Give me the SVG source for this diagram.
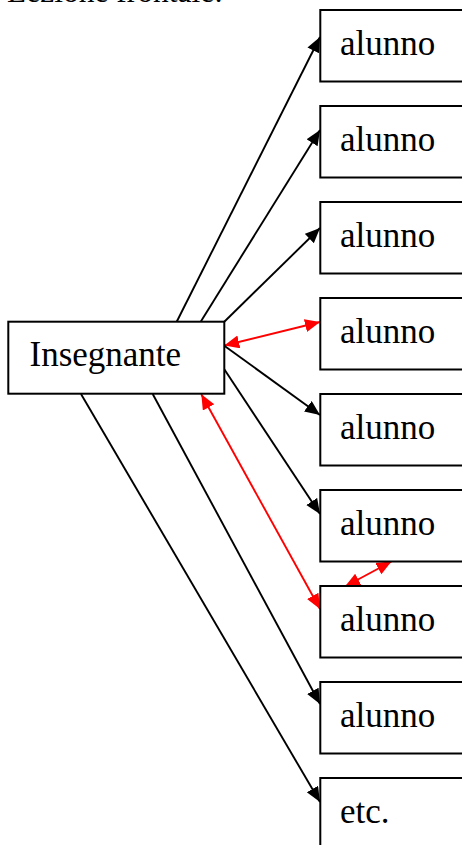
<svg xmlns="http://www.w3.org/2000/svg" width="462" height="845" viewBox="0 0 462 845">
<defs>
<style>
.box{fill:#fff;stroke:#000;stroke-width:2}
.t{font-family:"Liberation Serif","Times New Roman",serif;font-size:35px;fill:#000}
.k{stroke:#000;stroke-width:1.9;fill:none}
.r{stroke:#f00;stroke-width:1.9;fill:none}
</style>
<marker id="ak" markerUnits="userSpaceOnUse" markerWidth="18" markerHeight="16" refX="15" refY="6.5" orient="auto"><path d="M0,0 L15,6.5 L0,13 Z" fill="#000"/></marker>
<marker id="ar" markerUnits="userSpaceOnUse" markerWidth="18" markerHeight="16" refX="15" refY="6.5" orient="auto-start-reverse"><path d="M0,0 L15,6.5 L0,13 Z" fill="#f00"/></marker>
</defs>
<rect width="462" height="845" fill="#fff"/>
<text class="t" x="7" y="2" style="font-size:31.5px">Lezione frontale:</text>
<g id="connectors">
<line class="k" x1="176.7" y1="321.7" x2="320" y2="37" marker-end="url(#ak)"/>
<line class="k" x1="200.7" y1="321.7" x2="320" y2="130" marker-end="url(#ak)"/>
<line class="k" x1="224.3" y1="321.7" x2="320" y2="228" marker-end="url(#ak)"/>
<line class="r" x1="224.3" y1="345.5" x2="320" y2="322" marker-start="url(#ar)" marker-end="url(#ar)"/>
<line class="k" x1="224.3" y1="345.7" x2="320" y2="415" marker-end="url(#ak)"/>
<line class="k" x1="224.3" y1="369.3" x2="320" y2="514" marker-end="url(#ak)"/>
<line class="r" x1="201.3" y1="394.3" x2="320" y2="609" marker-start="url(#ar)" marker-end="url(#ar)"/>
<line class="r" x1="391.5" y1="561.5" x2="345" y2="586.5" marker-start="url(#ar)" marker-end="url(#ar)"/>
<line class="k" x1="152.7" y1="394" x2="320" y2="704" marker-end="url(#ak)"/>
<line class="k" x1="81" y1="394" x2="320" y2="802" marker-end="url(#ak)"/>
</g>
<g id="insegnante"><rect class="box" x="8.3" y="321.7" width="216" height="72"/><text class="t" x="29.5" y="366">Insegnante</text></g>
<g id="alunno1"><rect class="box" x="320.3" y="10" width="160" height="71.5"/><text class="t" x="340" y="55">alunno</text></g>
<g id="alunno2"><rect class="box" x="320.3" y="106" width="160" height="71.5"/><text class="t" x="340" y="151">alunno</text></g>
<g id="alunno3"><rect class="box" x="320.3" y="202" width="160" height="71.5"/><text class="t" x="340" y="247">alunno</text></g>
<g id="alunno4"><rect class="box" x="320.3" y="298" width="160" height="71.5"/><text class="t" x="340" y="343">alunno</text></g>
<g id="alunno5"><rect class="box" x="320.3" y="394" width="160" height="71.5"/><text class="t" x="340" y="439">alunno</text></g>
<g id="alunno6"><rect class="box" x="320.3" y="490" width="160" height="71.5"/><text class="t" x="340" y="535">alunno</text></g>
<g id="alunno7"><rect class="box" x="320.3" y="586" width="160" height="71.5"/><text class="t" x="340" y="631">alunno</text></g>
<g id="alunno8"><rect class="box" x="320.3" y="682" width="160" height="71.5"/><text class="t" x="340" y="727">alunno</text></g>
<g id="etc"><rect class="box" x="320.3" y="778" width="160" height="100"/><text class="t" x="340" y="823">etc.</text></g>
</svg>
